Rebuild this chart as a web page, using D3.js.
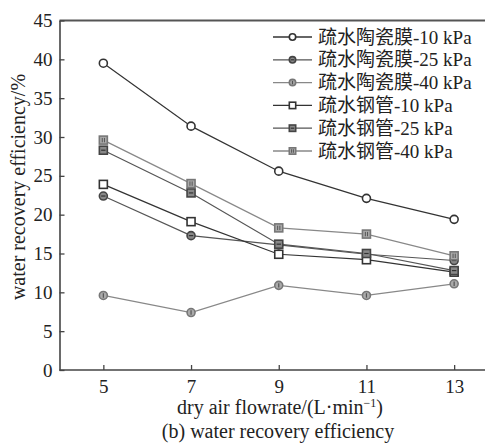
<!DOCTYPE html>
<html>
<head>
<meta charset="utf-8">
<script src="https://cdn.jsdelivr.net/npm/d3@7"></script>
<style>
  body { margin: 0; background: #fff; }
  svg { display: block; }
  text { font-family: 'Liberation Serif', 'Times New Roman', 'Noto Sans CJK SC', serif; fill: #222; }
</style>
</head>
<body>
<div class="chart"></div>
<script>
let width = 485;
let height = 446;

// data
let flowrates = [5, 7, 9, 11, 13];
let seriesNames = ['疏水陶瓷膜-10 kPa', '疏水陶瓷膜-25 kPa', '疏水陶瓷膜-40 kPa',
                   '疏水钢管-10 kPa', '疏水钢管-25 kPa', '疏水钢管-40 kPa'];
let ceramic10 = [39.5, 31.4, 25.6, 22.1, 19.4];
let ceramic25 = [22.4, 17.3, 16.1, 14.9, 14.1];
let ceramic40 = [9.6, 7.4, 10.9, 9.6, 11.1];
let steel10 = [23.9, 19.1, 14.9, 14.2, 12.6];
let steel25 = [28.3, 22.8, 16.2, 15.0, 12.8];
let steel40 = [29.6, 24.0, 18.3, 17.5, 14.7];
let xTicks = [5, 7, 9, 11, 13];
let yTicks = [0, 5, 10, 15, 20, 25, 30, 35, 40, 45];

let allSeries = [ceramic10, ceramic25, ceramic40, steel10, steel25, steel40];

// marker styles: shape, line colour, marker fill, inner mark
let styles = [
  {shape: 'circle', line: '#333', stroke: '#333', fill: '#fff', mark: 'none'},
  {shape: 'circle', line: '#555', stroke: '#444', fill: '#888', mark: 'h'},
  {shape: 'circle', line: '#888', stroke: '#777', fill: '#aaa', mark: 'v'},
  {shape: 'square', line: '#333', stroke: '#333', fill: '#fff', mark: 'none'},
  {shape: 'square', line: '#555', stroke: '#444', fill: '#888', mark: 'h'},
  {shape: 'square', line: '#888', stroke: '#777', fill: '#aaa', mark: 'vv'}
];

let svg = d3.select('.chart')
            .append('svg')
            .attr('width', width)
            .attr('height', height);

let xScale = d3.scaleLinear()
               .domain([4, 14])
               .range([59.5, 498]);
let yScale = d3.scaleLinear()
               .domain([0, 45])
               .range([370, 20.5]);

// frame: top and bottom lines run off the right edge
svg.append('line')
   .attr('x1', 59.5).attr('x2', width)
   .attr('y1', 20.5).attr('y2', 20.5)
   .attr('stroke', '#555').attr('stroke-width', 2);

let xAxis = d3.axisBottom(xScale)
              .tickValues(xTicks)
              .tickSize(-5)
              .tickPadding(10)
              .tickSizeOuter(0);
let yAxis = d3.axisLeft(yScale)
              .tickValues(yTicks)
              .tickSize(-5)
              .tickPadding(7)
              .tickSizeOuter(0);

let gx = svg.append('g')
   .attr('transform', 'translate(0,370)')
   .call(xAxis);
let gy = svg.append('g')
   .attr('transform', 'translate(59.5,0)')
   .call(yAxis);

[gx, gy].forEach(g => {
  g.select('.domain').attr('stroke', '#444').attr('stroke-width', 1.6);
  g.selectAll('.tick line').attr('stroke', '#444').attr('stroke-width', 1.3);
  g.selectAll('.tick text')
   .style('font-family', "'Liberation Serif', serif")
   .style('font-size', '19px')
   .attr('fill', '#222');
});
gx.select('.domain').attr('d', 'M59.5,0H' + width);

svg.append('text')
   .attr('x', 280)
   .attr('y', 414)
   .attr('text-anchor', 'middle')
   .style('font-size', '20px')
   .html('dry air flowrate/(L·min<tspan dy="-7" font-size="12">−1</tspan><tspan dy="7">)</tspan>');

svg.append('text')
   .attr('transform', 'translate(25,' + 187 + ') rotate(-90)')
   .attr('text-anchor', 'middle')
   .style('font-size', '20px')
   .text('water recovery efficiency/%');

svg.append('text')
   .attr('x', 278)
   .attr('y', 438)
   .attr('text-anchor', 'middle')
   .style('font-size', '20px')
   .text('(b) water recovery efficiency');

function drawMarker(g, st, r) {
  if (st.shape == 'circle') {
    g.append('circle')
     .attr('r', r)
     .attr('fill', st.fill)
     .attr('stroke', st.stroke)
     .attr('stroke-width', 1.6);
  } else {
    g.append('rect')
     .attr('x', -r).attr('y', -r)
     .attr('width', 2 * r).attr('height', 2 * r)
     .attr('fill', st.fill)
     .attr('stroke', st.stroke)
     .attr('stroke-width', 1.6);
  }
  let m = r * 0.55;
  if (st.mark == 'h') {
    g.append('line').attr('x1', -m).attr('x2', m).attr('y1', 0).attr('y2', 0)
     .attr('stroke', '#333').attr('stroke-width', 1.2);
  } else if (st.mark == 'v') {
    g.append('line').attr('x1', 0).attr('x2', 0).attr('y1', -m).attr('y2', m)
     .attr('stroke', '#555').attr('stroke-width', 1.2);
  } else if (st.mark == 'vv') {
    [-m / 2, m / 2].forEach(dx => {
      g.append('line').attr('x1', dx).attr('x2', dx).attr('y1', -m).attr('y2', m)
       .attr('stroke', '#555').attr('stroke-width', 1);
    });
  }
}

let line = d3.line()
             .x((d, i) => xScale(flowrates[i]))
             .y(d => yScale(d));

allSeries.forEach((values, k) => {
  let st = styles[k];
  svg.append('path')
     .datum(values)
     .attr('d', line)
     .attr('fill', 'none')
     .attr('stroke', st.line)
     .attr('stroke-width', 1.2);
  values.forEach((v, i) => {
    let g = svg.append('g')
               .attr('transform', 'translate(' + xScale(flowrates[i]) + ',' + yScale(v) + ')');
    drawMarker(g, st, 4);
  });
});

// legend
let legend = svg.append('g').attr('id', 'legend');
seriesNames.forEach((name, k) => {
  let st = styles[k];
  let y = 37 + k * 22.8;
  legend.append('line')
        .attr('x1', 273).attr('x2', 312)
        .attr('y1', y).attr('y2', y)
        .attr('stroke', st.line)
        .attr('stroke-width', 1.3);
  let g = legend.append('g').attr('transform', 'translate(292.5,' + y + ')');
  drawMarker(g, st, 3.2);
  legend.append('text')
        .attr('x', 318)
        .attr('y', y + 6.5)
        .style('font-size', '19px')
        .text(name);
});
</script>
</body>
</html>
